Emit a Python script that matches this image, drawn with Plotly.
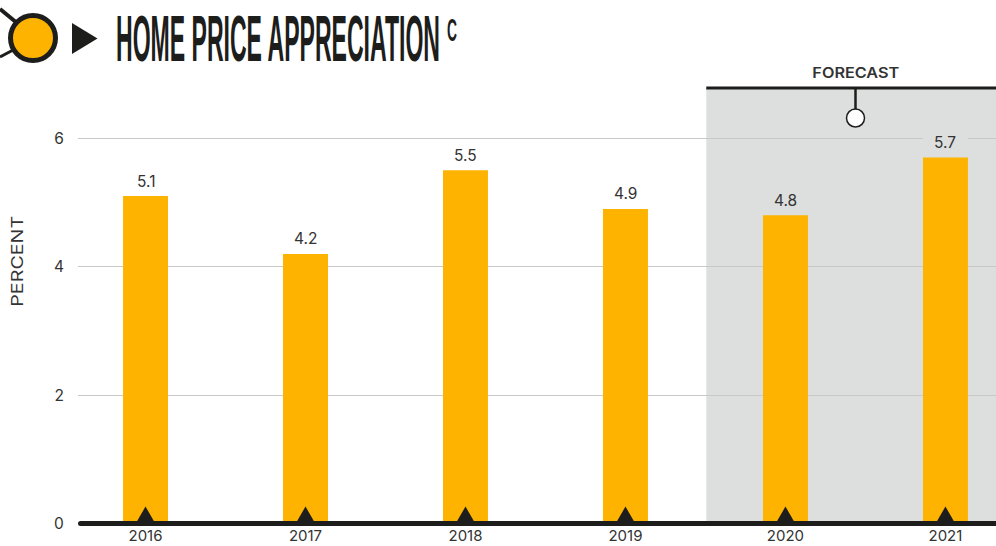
import plotly.graph_objects as go

years = [2016, 2017, 2018, 2019, 2020, 2021]
values = [5.1, 4.2, 5.5, 4.9, 4.8, 5.7]
y_ticks = [0, 2, 4, 6]
forecast_start = 2019.505

INK = "#1d1d1b"
AMBER = "#fdb300"
SHADE = "#dddfdf"
TEXT = "Inter"
TITLE = "Liberation Sans"

W, H = 996, 546
L, R, T, B = 78, 0, 88, 22
x_range = [2015.578, 2021.316]
y_range = [0, 6.78]


def px(x):
    return (x - L) / (W - L - R)


def py(y):
    return (H - B - y) / (H - T - B)


fig = go.Figure()
fig.add_trace(go.Bar(
    x=years, y=values, width=0.281, marker=dict(color=AMBER, line=dict(width=0)),
    cliponaxis=False, hoverinfo="skip",
))

shapes = [
    dict(type="rect", xref="x", yref="paper", x0=forecast_start, x1=x_range[1], y0=0, y1=1,
         fillcolor=SHADE, line_width=0, layer="below"),
    dict(type="rect", xref="x", yref="y", x0=years[-1] - 0.14, x1=years[-1] + 0.14, y0=5.96, y1=6.04,
         fillcolor=SHADE, line_width=0, layer="between"),
    dict(type="line", xref="x", yref="paper", x0=forecast_start, x1=x_range[1], y0=1, y1=1,
         line=dict(color=INK, width=3), layer="above"),
    dict(type="line", xref="paper", yref="paper", x0=px(855.5), x1=px(855.5), y0=py(88), y1=py(110),
         line=dict(color=INK, width=2.5), layer="above"),
    dict(type="circle", xref="paper", yref="paper", x0=px(846.5), x1=px(864.5), y0=py(127), y1=py(109),
         fillcolor="white", line=dict(color=INK, width=1.5), layer="above"),
    dict(type="line", xref="paper", yref="paper", x0=px(80.5), x1=1, y0=py(523.5), y1=py(523.5),
         line=dict(color=INK, width=5), layer="above"),
    dict(type="circle", xref="paper", yref="paper", x0=px(78), x1=px(83), y0=py(526), y1=py(521),
         fillcolor=INK, line_width=0, layer="above"),
    # header icon
    dict(type="line", xref="paper", yref="paper", x0=px(0), x1=px(17), y0=py(9), y1=py(23),
         line=dict(color=INK, width=4), layer="above"),
    dict(type="line", xref="paper", yref="paper", x0=px(0), x1=px(15), y0=py(57), y1=py(49),
         line=dict(color=INK, width=3), layer="above"),
    dict(type="circle", xref="paper", yref="paper", x0=px(10.5), x1=px(55.5), y0=py(60.5), y1=py(15.5),
         fillcolor=AMBER, line=dict(color=INK, width=5), layer="above"),
    dict(type="path", xref="paper", yref="paper",
         path=f"M{px(72)},{py(23)} L{px(97.5)},{py(38.5)} L{px(72)},{py(54)} Z",
         fillcolor=INK, line_width=0, layer="above"),
]
for yr in years:
    shapes.append(dict(type="path", xref="x", yref="y", xsizemode="pixel", ysizemode="pixel",
                       xanchor=yr, yanchor=0, path="M-9.5,1 L9.5,1 L0,17.5 Z",
                       fillcolor=INK, line_width=0, layer="above"))

annotations = [
    dict(text="HOME PRICE APPRECIATION", xref="paper", yref="paper", x=px(116), y=py(39),
         xanchor="left", yanchor="middle", showarrow=False, borderpad=0, borderwidth=0,
         font=dict(family=TITLE, size=64, color=INK, weight=700)),
    dict(text="C", xref="paper", yref="paper", x=px(447), y=py(29.5),
         xanchor="left", yanchor="middle", showarrow=False, borderpad=0, borderwidth=0,
         font=dict(family=TITLE, size=32, color=INK, weight=700)),
    dict(text="FORECAST", xref="paper", yref="paper", x=px(855.5), y=py(72),
         xanchor="center", yanchor="middle", showarrow=False,
         font=dict(family=TEXT, size=14.5, color="#333333", weight=600)),
    dict(text="PERCENT", xref="paper", yref="paper", x=px(17), y=py(261), textangle=-90,
         xanchor="center", yanchor="middle", showarrow=False,
         font=dict(family=TEXT, size=15.5, color="#333333")),
]
for yr, v in zip(years, values):
    annotations.append(dict(text=f"{v:.1f}", xref="x", yref="y", x=yr, y=v, yshift=15,
                            xanchor="center", yanchor="middle", showarrow=False,
                            font=dict(family=TEXT, size=15.5, color="#333333")))

fig.update_layout(
    width=W, height=H, margin=dict(l=L, r=R, t=T, b=B, autoexpand=False),
    paper_bgcolor="white", plot_bgcolor="white", showlegend=False,
    shapes=shapes, annotations=annotations,
    xaxis=dict(range=x_range, tickmode="array", tickvals=years, ticktext=[str(y) for y in years],
               showgrid=False, zeroline=False, showline=False,
               ticks="", ticklabelstandoff=1,
               tickfont=dict(family=TEXT, size=15, color="#333333")),
    yaxis=dict(range=y_range, tickmode="array", tickvals=y_ticks, ticktext=[str(v) for v in y_ticks],
               showgrid=True, gridcolor="#c8c8c8", gridwidth=1, zeroline=False, showline=False,
               ticks="outside", ticklen=10, tickcolor="rgba(0,0,0,0)",
               tickfont=dict(family=TEXT, size=15.5, color="#333333")),
)

post = """
document.body.style.margin='0';
function fit(label,w,mid){
  var t=[...document.querySelectorAll('.annotation-text')].find(e=>e.textContent===label);
  if(!t)return;
  var b=t.getBBox(),s=w/b.width,o=mid?b.x+b.width/2:b.x;
  t.setAttribute('transform','translate('+o+',0) scale('+s+',1) translate('+(-o)+',0)');
}
fit('HOME PRICE APPRECIATION',324,false);
fit('C',10,false);
fit('FORECAST',87,true);
fit('PERCENT',91,true);
"""
fig.write_html("out.html", post_script=post, config={"displayModeBar": False})
